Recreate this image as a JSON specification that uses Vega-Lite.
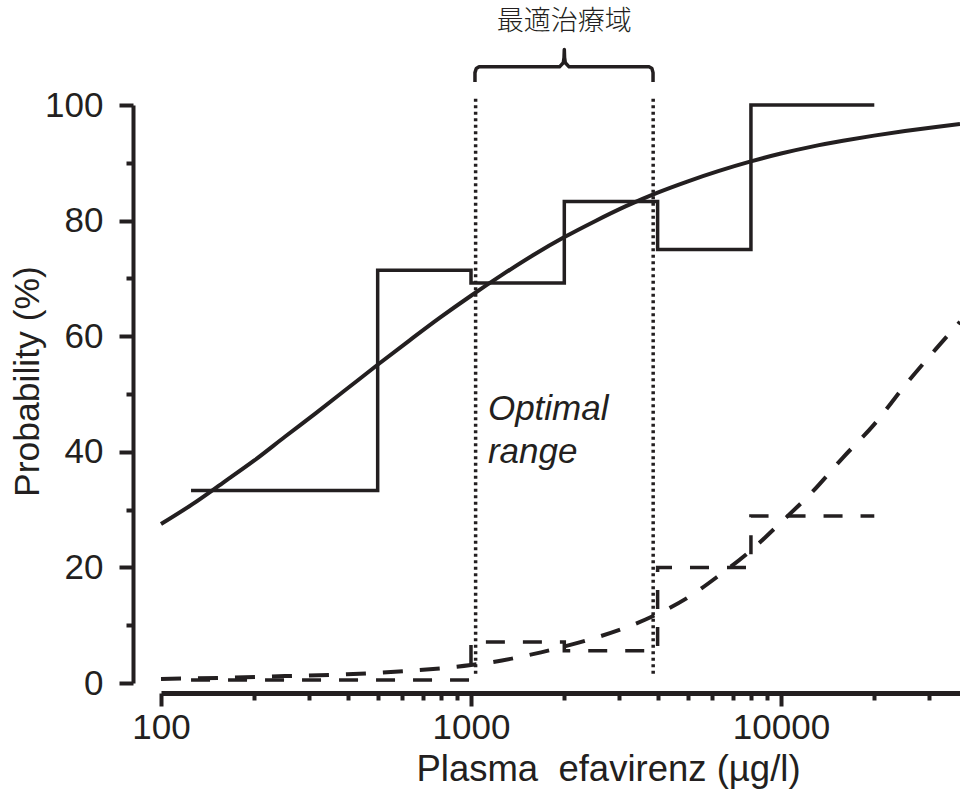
{
  "$schema": "https://vega.github.io/schema/vega-lite/v6.json",
  "width": 799,
  "height": 578,
  "autosize": {"type": "none"},
  "padding": {"left": 161, "top": 105, "right": 0, "bottom": 108},
  "background": "white",
  "config": {
    "view": {"stroke": null},
    "font": "Liberation Sans",
    "axis": {"grid": false}
  },
  "datasets": {
    "efficacy_fit": [
      {"conc": 100, "pct": 27.5}, {"conc": 126, "pct": 30.9}, {"conc": 158, "pct": 34.6},
      {"conc": 200, "pct": 38.5}, {"conc": 251, "pct": 42.6}, {"conc": 316, "pct": 46.7},
      {"conc": 398, "pct": 50.9}, {"conc": 501, "pct": 55.1}, {"conc": 631, "pct": 59.2},
      {"conc": 794, "pct": 63.2}, {"conc": 1000, "pct": 67.0}, {"conc": 1259, "pct": 70.6},
      {"conc": 1585, "pct": 74.0}, {"conc": 1995, "pct": 77.1}, {"conc": 2512, "pct": 79.9},
      {"conc": 3162, "pct": 82.5}, {"conc": 3981, "pct": 84.8}, {"conc": 5012, "pct": 86.8},
      {"conc": 6310, "pct": 88.6}, {"conc": 7943, "pct": 90.2}, {"conc": 10000, "pct": 91.6},
      {"conc": 12589, "pct": 92.8}, {"conc": 15849, "pct": 93.8}, {"conc": 19953, "pct": 94.7},
      {"conc": 25119, "pct": 95.5}, {"conc": 31623, "pct": 96.2}, {"conc": 37800, "pct": 96.7}
    ],
    "efficacy_obs": [
      {"conc": 125, "pct": 33.3}, {"conc": 500, "pct": 71.4}, {"conc": 1000, "pct": 69.2},
      {"conc": 2000, "pct": 83.3}, {"conc": 4000, "pct": 75.0}, {"conc": 8000, "pct": 100},
      {"conc": 20000, "pct": 100}
    ],
    "toxicity_fit": [
      {"conc": 100, "pct": 0.7}, {"conc": 158, "pct": 0.9}, {"conc": 251, "pct": 1.2},
      {"conc": 398, "pct": 1.5}, {"conc": 631, "pct": 2.1}, {"conc": 1000, "pct": 3.1},
      {"conc": 1259, "pct": 3.9}, {"conc": 1585, "pct": 5.0}, {"conc": 1995, "pct": 6.3},
      {"conc": 2512, "pct": 7.8}, {"conc": 3162, "pct": 9.6}, {"conc": 3981, "pct": 11.9},
      {"conc": 5012, "pct": 14.8}, {"conc": 6310, "pct": 18.6}, {"conc": 7943, "pct": 22.8},
      {"conc": 10000, "pct": 27.8}, {"conc": 12589, "pct": 33.0}, {"conc": 15849, "pct": 39.0},
      {"conc": 19953, "pct": 44.7}, {"conc": 25119, "pct": 51.5}, {"conc": 31623, "pct": 57.8},
      {"conc": 37800, "pct": 62.5}
    ],
    "toxicity_obs": [
      {"conc": 125, "pct": 0.5}, {"conc": 1000, "pct": 7.1}, {"conc": 2000, "pct": 5.6},
      {"conc": 4000, "pct": 20.0}, {"conc": 8000, "pct": 28.9}, {"conc": 20000, "pct": 28.9}
    ],
    "range_bounds": [
      {"conc": 1035, "pct": 1.6, "pct_top": 101.5},
      {"conc": 3870, "pct": 1.6, "pct_top": 101.5}
    ],
    "brace": [
      {"i": 1, "conc": 1030, "pct": 104.0}, {"i": 2, "conc": 1030, "pct": 105.6},
      {"i": 3, "conc": 1040, "pct": 106.3}, {"i": 4, "conc": 1062, "pct": 106.6},
      {"i": 5, "conc": 1930, "pct": 106.6}, {"i": 6, "conc": 1985, "pct": 107.3},
      {"i": 7, "conc": 1996, "pct": 108.2}, {"i": 8, "conc": 2000, "pct": 109.6},
      {"i": 9, "conc": 2004, "pct": 108.2}, {"i": 10, "conc": 2015, "pct": 107.3},
      {"i": 11, "conc": 2072, "pct": 106.6}, {"i": 12, "conc": 3760, "pct": 106.6},
      {"i": 13, "conc": 3835, "pct": 106.3}, {"i": 14, "conc": 3866, "pct": 105.6},
      {"i": 15, "conc": 3866, "pct": 104.0}
    ],
    "range_title": [
      {"conc": 2000, "pct": 114.4, "label": "最適治療域"}
    ],
    "range_note": [
      {"conc": 1134, "pct": 45.5, "label": "Optimal\nrange"}
    ]
  },
  "encoding": {
    "x": {
      "field": "conc",
      "type": "quantitative",
      "scale": {"type": "log", "domain": [100, 37800], "nice": false},
      "axis": {
        "title": "Plasma\u00a0 efavirenz (µg/l)",
        "values": [100, 200, 300, 400, 500, 600, 700, 800, 900, 1000, 2000, 3000, 4000, 5000, 6000, 7000, 8000, 9000, 10000, 20000, 30000],
        "labelExpr": "datum.value === 100 ? '100' : datum.value === 1000 ? '1000' : datum.value === 10000 ? '10000' : ''",
        "offset": 10,
        "domainColor": "#231f20",
        "domainWidth": 5,
        "tickColor": "#231f20",
        "tickWidth": 4,
        "tickSize": {"condition": {"test": "datum.value === 100 || datum.value === 1000 || datum.value === 10000", "value": 13}, "value": 7},
        "labelFont": "Liberation Sans",
        "labelFontSize": 35,
        "labelColor": "#231f20",
        "labelPadding": 4,
        "labelFlush": false,
        "labelOverlap": false,
        "labelBound": false,
        "titleFont": "Liberation Sans",
        "titleFontSize": 36.5,
        "titleFontWeight": "normal",
        "titleColor": "#231f20",
        "titleAlign": "center",
        "titleBaseline": "alphabetic",
        "titleX": 447,
        "titleY": 87
      }
    },
    "y": {
      "field": "pct",
      "type": "quantitative",
      "scale": {"domain": [0, 100], "nice": false, "zero": false},
      "axis": {
        "title": "Probability (%)",
        "values": [0, 10, 20, 30, 40, 50, 60, 70, 80, 90, 100],
        "labelExpr": "datum.value % 20 === 0 ? datum.label : ''",
        "offset": 28,
        "domainColor": "#231f20",
        "domainWidth": 4,
        "tickColor": "#231f20",
        "tickWidth": 4,
        "tickSize": {"condition": {"test": "datum.value % 20 === 0", "value": 14}, "value": 7},
        "labelFont": "Liberation Sans",
        "labelFontSize": 35,
        "labelColor": "#231f20",
        "labelPadding": 16,
        "labelFlush": false,
        "labelOverlap": false,
        "labelBound": false,
        "titleFont": "Liberation Sans",
        "titleFontSize": 35.5,
        "titleFontWeight": "normal",
        "titleColor": "#231f20",
        "titleAngle": -90,
        "titleAlign": "center",
        "titleBaseline": "alphabetic",
        "titleX": -95,
        "titleY": 276
      }
    }
  },
  "layer": [
    {
      "data": {"name": "range_bounds"},
      "mark": {"type": "rule", "color": "#231f20", "strokeWidth": 3.5, "strokeDash": [3, 3.5], "clip": false},
      "encoding": {"y2": {"field": "pct_top"}}
    },
    {
      "data": {"name": "efficacy_fit"},
      "mark": {"type": "line", "color": "#231f20", "strokeWidth": 4, "interpolate": "monotone", "clip": false}
    },
    {
      "data": {"name": "efficacy_obs"},
      "mark": {"type": "line", "color": "#231f20", "strokeWidth": 3.5, "interpolate": "step-after", "clip": false}
    },
    {
      "data": {"name": "toxicity_fit"},
      "mark": {"type": "line", "color": "#231f20", "strokeWidth": 4, "strokeDash": [20, 17], "interpolate": "monotone", "clip": false}
    },
    {
      "data": {"name": "toxicity_obs"},
      "mark": {"type": "line", "color": "#231f20", "strokeWidth": 3.5, "strokeDash": [19, 18], "interpolate": "step-after", "clip": false}
    },
    {
      "data": {"name": "brace"},
      "mark": {"type": "line", "color": "#231f20", "strokeWidth": 3.5, "strokeJoin": "round", "clip": false},
      "encoding": {"order": {"field": "i", "type": "quantitative"}}
    },
    {
      "data": {"name": "range_title"},
      "mark": {"type": "text", "font": "Noto Sans CJK JP", "fontSize": 27, "fontWeight": 300, "color": "#231f20", "align": "center", "baseline": "middle", "clip": false},
      "encoding": {"text": {"field": "label", "type": "nominal"}}
    },
    {
      "data": {"name": "range_note"},
      "mark": {"type": "text", "font": "Liberation Sans", "fontSize": 35, "fontStyle": "italic", "color": "#231f20", "align": "left", "baseline": "alphabetic", "lineBreak": "\n", "lineHeight": 43, "clip": false},
      "encoding": {"text": {"field": "label", "type": "nominal"}}
    }
  ]
}
